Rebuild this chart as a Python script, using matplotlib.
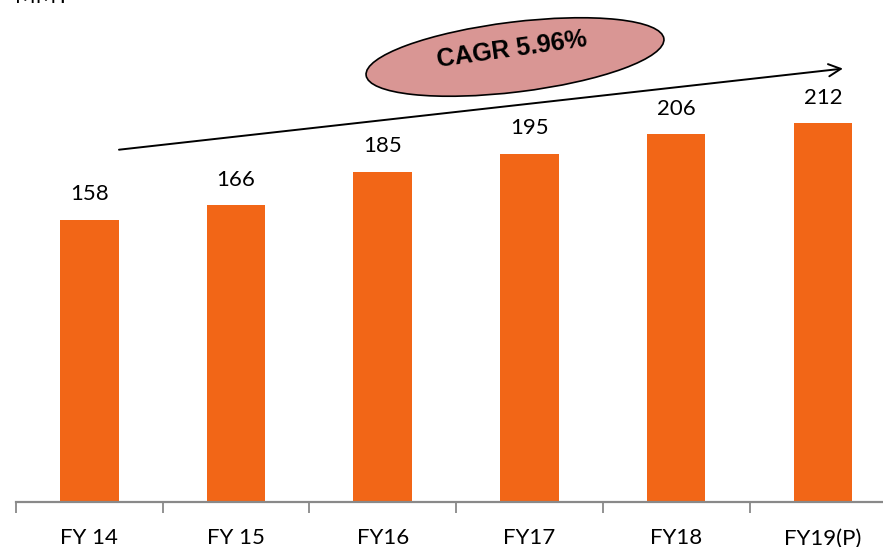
import matplotlib.pyplot as plt
from matplotlib.patches import Ellipse

years = ['FY 14', 'FY 15', 'FY16', 'FY17', 'FY18', 'FY19(P)']
volumes = [158, 166, 185, 195, 206, 212]
unit_label = 'MMT'
cagr_text = 'CAGR 5.96%'

plt.rcParams['font.family'] = ['Lato', 'DejaVu Sans']

fig = plt.figure(figsize=(8.83, 5.47), dpi=100)
W, H = 883, 547
# main axes: left edge at 16px, baseline at 502px, top at figure top
ax = fig.add_axes([16 / W, (H - 502) / H, (W - 16) / W, 502 / H])
x = list(range(len(years)))
ax.bar(x, volumes, width=0.4, color='#F26617')

for xi, v in zip(x, volumes):
    ax.annotate(str(v), (xi, v), xytext=(0, 11), textcoords='offset points',
                ha='center', va='bottom', fontsize=16, color='black')

for s in ['top', 'right', 'left']:
    ax.spines[s].set_visible(False)
ax.spines['bottom'].set_color('#898989')
ax.spines['bottom'].set_linewidth(1.6)
ax.set_yticks([])
ax.set_xticks([i - 0.5 for i in range(len(years) + 1)])
ax.set_xticklabels([])
ax.set_xticks(x, minor=True)
ax.set_xticklabels(years, minor=True, fontsize=16)
ax.tick_params(axis='x', which='major', length=8, width=1.3, color='#898989', direction='out')
ax.tick_params(axis='x', which='minor', length=0, pad=19)
ax.set_xlim(-0.5, 5.41)
ax.set_ylim(0, 281)

# trend arrow
ax.annotate('', xy=(5.137, 242.6), xytext=(0.202, 197.2),
            arrowprops=dict(arrowstyle='->', color='black', lw=1.4,
                            mutation_scale=22, shrinkA=0, shrinkB=0))

# overlay in pixel coordinates for the CAGR bubble
ov = fig.add_axes([0, 0, 1, 1], facecolor='none')
ov.set_xlim(0, W)
ov.set_ylim(H, 0)
ov.axis('off')
ov.add_patch(Ellipse((515, 57), 300, 70, angle=-7, facecolor='#D99694',
                     edgecolor='black', lw=1.2))
ov.text(512, 50, cagr_text, ha='center', va='center', rotation=8,
        fontsize=18, fontweight='bold', family=['Liberation Sans', 'DejaVu Sans'])

fig.text(15 / W, 1 - 3 / H, unit_label, ha='left', va='baseline', fontsize=16)

fig.savefig('out.png', dpi=100)
